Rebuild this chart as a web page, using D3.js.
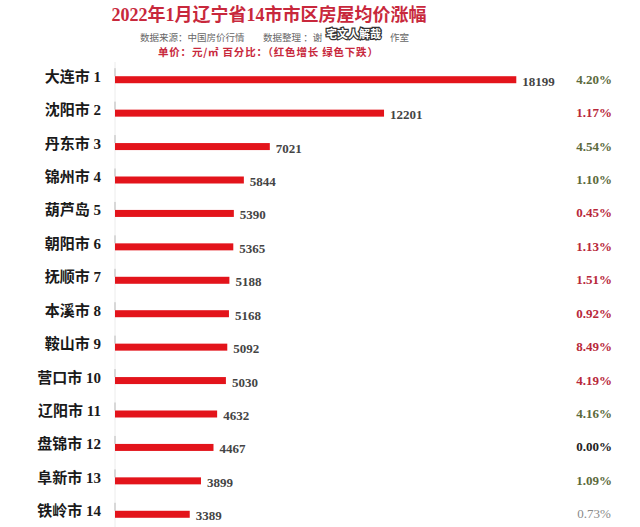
<!DOCTYPE html>
<html>
<head>
<meta charset="utf-8">
<script src="https://cdn.jsdelivr.net/npm/d3@7"></script>
<style>
  body { margin: 0; background: #fff; }
  #chart svg { display: block; }
</style>
</head>
<body>
<div id="chart"></div>
<script>
// Data
const cities = ['大连市 1','沈阳市 2','丹东市 3','锦州市 4','葫芦岛 5','朝阳市 6','抚顺市 7','本溪市 8','鞍山市 9','营口市 10','辽阳市 11','盘锦市 12','阜新市 13','铁岭市 14'];
const prices = [18199, 12201, 7021, 5844, 5390, 5365, 5188, 5168, 5092, 5030, 4632, 4467, 3899, 3389];
const changes = ['4.20%','1.17%','4.54%','1.10%','0.45%','1.13%','1.51%','0.92%','8.49%','4.19%','4.16%','0.00%','1.09%','0.73%'];
// direction as printed: up (red), down (green), flat (black)
const trend = ['down','up','down','down','up','up','up','up','up','up','down','flat','down','faint'];

const width = 640, height = 527;
const cjk = '"Noto Sans CJK SC", sans-serif';
const serif = '"Liberation Serif", "DejaVu Serif", serif';

const svg = d3.select('#chart').append('svg')
  .attr('width', width).attr('height', height);

// scales
const x = d3.scaleLinear().domain([0, 20000]).range([115, 556]);
const y = d3.scaleBand().domain(cities).range([62, 530]);
const barH = 7;
const trendColor = { up: '#b8283a', down: '#5c6a3c', flat: '#222', faint: '#8a8a8a' };

// title
svg.append('text')
  .attr('x', 269).attr('y', 21)
  .attr('text-anchor', 'middle')
  .style('font-family', serif + ',' + cjk)
  .style('font-weight', 'bold')
  .style('font-size', '18px')
  .style('fill', '#c8283c')
  .text('2022年1月辽宁省14市市区房屋均价涨幅');

// source line, split around the watermark
const sub = [
  { t: '数据来源：中国房价行情', x: 140 },
  { t: '数据整理 ：谢', x: 263 },
  { t: '作室', x: 390 }
];
svg.selectAll('.sub').data(sub).enter().append('text')
  .attr('class', 'sub')
  .attr('x', d => d.x).attr('y', 40.5)
  .style('font-family', cjk)
  .style('font-size', '9.5px')
  .style('fill', '#666')
  .text(d => d.t);

// watermark over the subtitle
svg.append('text')
  .attr('x', 326).attr('y', 38)
  .style('font-family', cjk)
  .style('font-weight', 'bold')
  .style('font-size', '11px')
  .style('fill', '#fff')
  .style('stroke', '#333')
  .style('stroke-width', 2.5)
  .style('paint-order', 'stroke')
  .text('宅文人解哉');

svg.append('text')
  .attr('x', 158).attr('y', 56)
  .style('font-family', cjk)
  .style('font-weight', 'bold')
  .style('font-size', '10.5px')
  .style('letter-spacing', '0.8px')
  .style('fill', '#c8283c')
  .text('单价：元/㎡   百分比：（红色增长  绿色下跌）');

// faint axis line with ticks
svg.append('line')
  .attr('x1', x(0)).attr('x2', x(0))
  .attr('y1', y.range()[0]).attr('y2', y.range()[1])
  .attr('stroke', '#ececec');

const rows = cities.map((c, i) => ({ city: c, price: prices[i], change: changes[i], trend: trend[i] }));
const cy = d => y(d.city) + y.bandwidth() / 2 + 1;

svg.selectAll('.tick-mark').data(rows).enter().append('line')
  .attr('class', 'tick-mark')
  .attr('x1', x(0)).attr('x2', x(0))
  .attr('y1', d => cy(d) - barH / 2 - 8)
  .attr('y2', d => cy(d) - barH / 2)
  .attr('stroke', '#bbb');

// bars
svg.selectAll('.bar').data(rows).enter().append('rect')
  .attr('class', 'bar')
  .attr('x', x(0))
  .attr('y', d => cy(d) - barH / 2)
  .attr('width', d => x(d.price) - x(0))
  .attr('height', barH)
  .attr('fill', '#e3141b');

// category labels
const lab = svg.selectAll('.cat').data(rows).enter().append('text')
  .attr('class', 'cat')
  .attr('x', 101)
  .attr('y', d => cy(d) + 2)
  .attr('text-anchor', 'end')
  .style('font-weight', 'bold')
  .style('font-size', '15px')
  .style('fill', '#1a1a1a');
lab.append('tspan').style('font-family', cjk).text(d => d.city.split(' ')[0]);
lab.append('tspan').style('font-family', serif).text(d => ' ' + d.city.split(' ')[1]);

// value labels
svg.selectAll('.val').data(rows).enter().append('text')
  .attr('class', 'val')
  .attr('x', d => x(d.price) + 6)
  .attr('y', d => cy(d) + 6)
  .style('font-family', serif)
  .style('font-weight', 'bold')
  .style('font-size', '13px')
  .style('fill', '#444')
  .text(d => d.price);

// percent labels
svg.selectAll('.pct').data(rows).enter().append('text')
  .attr('class', 'pct')
  .attr('x', 594)
  .attr('y', d => cy(d) + 4)
  .attr('text-anchor', 'middle')
  .style('font-family', serif)
  .style('font-weight', d => d.trend === 'faint' ? 'normal' : 'bold')
  .style('font-size', '13px')
  .style('fill', d => trendColor[d.trend])
  .text(d => d.change);
</script>
</body>
</html>
